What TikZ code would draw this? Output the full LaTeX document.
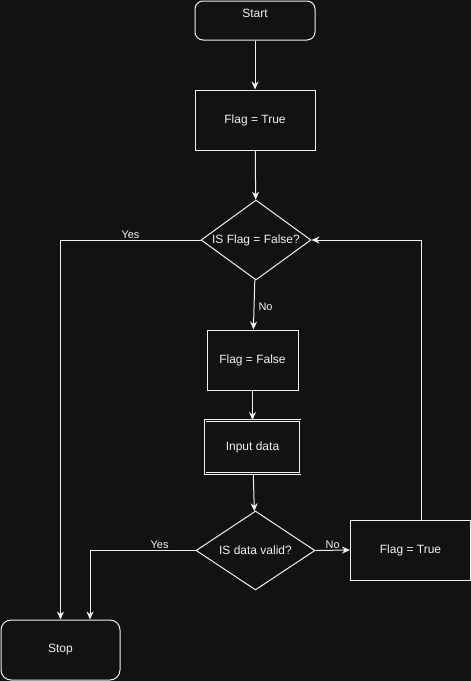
\documentclass[tikz,border=0pt]{standalone}
\usepackage{fontspec}
\setmainfont{Liberation Sans}
\usetikzlibrary{positioning}
\usetikzlibrary{calc}
\usetikzlibrary{shapes.geometric}
\usetikzlibrary{arrows.meta}
\definecolor{canvas}{HTML}{121212}
\definecolor{ink}{HTML}{F0F0F0}
\tikzset{
    % Arrow shape close to the classic flowchart tip
    >={Stealth[length=8pt, width=7pt, inset=2.5pt]},
%
    % Plain box for an action
    action box/.style={
        draw=ink, line width=1pt, text=ink, inner sep=0pt,
        font=\fontsize{12}{14}\selectfont},
%
    % Rounded box for the terminals
    terminal box/.style={action box, rounded corners=9pt},
%
    % Decision diamond
    decision/.style={
        action box, diamond, aspect=1.4},
%
    % Connector between two boxes
    flow/.style={draw=ink, line width=1pt, ->},
%
    % Small text beside a connector
    flow label/.style={text=ink, inner sep=1pt,
        font=\fontsize{11}{13}\selectfont}}

\begin{document}
\begin{tikzpicture}[x=1pt, y=-1pt]

\fill [canvas] (0,0) rectangle (471,681);
\useasboundingbox (0,0) rectangle (471,681);

\node [terminal box, minimum width=120pt, minimum height=39pt,
    rounded corners=8pt, text height=9pt, text depth=16pt]
    (start) at (255,20.5) {Start};
\node [action box, minimum width=120pt, minimum height=60pt]
    (flag on) at (255,120) {Flag = True};
\node [decision, minimum width=110pt, minimum height=80pt]
    (check flag) at (256,240) {IS Flag = False?};
\node [action box, minimum width=91pt, minimum height=60pt]
    (flag off) at (252.5,360) {Flag = False};
\node [action box, double=canvas, double distance=1pt, line width=0.9pt,
    minimum width=95pt, minimum height=53pt]
    (input) at (252.5,447) {Input data};
\node [decision, minimum width=119pt, minimum height=79pt]
    (check data) at (255.5,550.5) {IS data valid?};
\node [action box, minimum width=120pt, minimum height=60pt]
    (flag reset) at (410.5,550) {Flag = True};
\node [terminal box, minimum width=119pt, minimum height=60pt,
    rounded corners=10pt]
    (stop) at (60.5,650) {Stop};

\draw [flow] (start) -- (flag on);
\draw [flow] (flag on) -- (check flag);

\draw [flow] (check flag.west) -| (stop.north)
    node [flow label, pos=0.25, above] {Yes};
\draw [flow] (check flag) -- (flag off)
    node [flow label, pos=0.55, right, xshift=3pt] {No};
\draw [flow] (flag off) -- (input);
\draw [flow] (input) -- (check data);

\draw [flow] (check data.west) -| ($(stop.north)+(29.5,0)$)
    node [flow label, pos=0.17, above] {Yes};
\draw [flow] (check data.east) -- (flag reset.west)
    node [flow label, midway, above] {No};

\draw [flow] ($(flag reset.north)+(10.5,0)$) |- (check flag.east);

\end{tikzpicture}
\end{document}
